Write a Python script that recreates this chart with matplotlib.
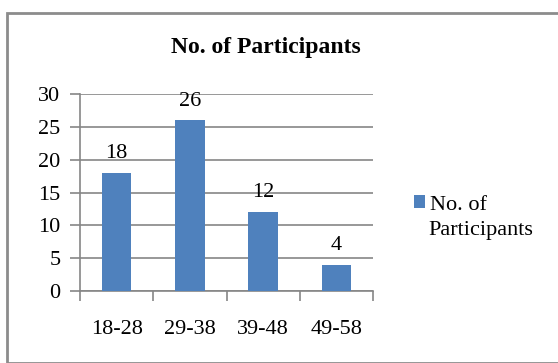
import matplotlib
matplotlib.use("Agg")
import matplotlib.pyplot as plt
from matplotlib.patches import Rectangle

categories = ["18-28", "29-38", "39-48", "49-58"]
values = [18, 26, 12, 4]
yticks = [0, 5, 10, 15, 20, 25, 30]
title = "No. of Participants"
series_name = ["No. of", "Participants"]

plt.rcParams['font.family'] = ['Liberation Serif', 'DejaVu Serif']
W, H = 558, 363
fig = plt.figure(figsize=(W/100, H/100), dpi=100)
fig.patch.set_facecolor('white')

# outer border
fig.add_artist(Rectangle((7/W, 0), 1.2, 1 - 13/H, transform=fig.transFigure,
                         fill=False, edgecolor='#8c8c8c', linewidth=2, clip_on=False))

FS = 16
ax = fig.add_axes([80/W, 1 - 291/H, (373-80)/W, (291-94)/H])
x = list(range(len(categories)))
bar_color = '#4F81BD'
bars = ax.bar(x, values, width=0.4, color=bar_color, zorder=3)
ax.set_xlim(-0.5, len(categories) - 0.5)
ax.set_ylim(0, 30)
ax.set_yticks(yticks)
ax.set_yticklabels([str(t) for t in yticks], fontsize=FS)
ax.yaxis.grid(True, color='#868686', linewidth=1.2, zorder=0)
ax.set_axisbelow(True)
for s in ['top', 'right']:
    ax.spines[s].set_visible(False)
for s in ['left', 'bottom']:
    ax.spines[s].set_color('#868686')
    ax.spines[s].set_linewidth(1.2)
ax.tick_params(axis='y', length=7, width=1.2, color='#868686', pad=7)
# x ticks at category boundaries
ax.set_xticks([i - 0.5 for i in range(len(categories) + 1)])
ax.set_xticklabels([])
ax.set_xticks(x, minor=True)
ax.set_xticklabels(categories, minor=True, fontsize=FS)
ax.tick_params(axis='x', which='major', length=7, width=1.2, color='#868686')
ax.tick_params(axis='x', which='minor', length=0, pad=21)

for xi, v in zip(x, values):
    ax.annotate(str(v), (xi, v), xytext=(0, 7), textcoords='offset points',
                ha='center', va='bottom', fontsize=FS, clip_on=False)

fig.text(266/W, 1 - 47/H, title, ha='center', va='center', fontsize=17, fontweight='bold')

leg = fig.legend(handles=[bars], labels=[series_name[0]], loc='center left',
                 bbox_to_anchor=(403/W, 1 - 205/H), frameon=False, fontsize=FS,
                 handlelength=0.5, handleheight=0.5, handletextpad=0.2,
                 borderpad=0, labelspacing=0)
fig.text(428/W, 1 - 231/H, series_name[1], ha='left', va='center', fontsize=FS)

fig.savefig("out.png", dpi=100)
